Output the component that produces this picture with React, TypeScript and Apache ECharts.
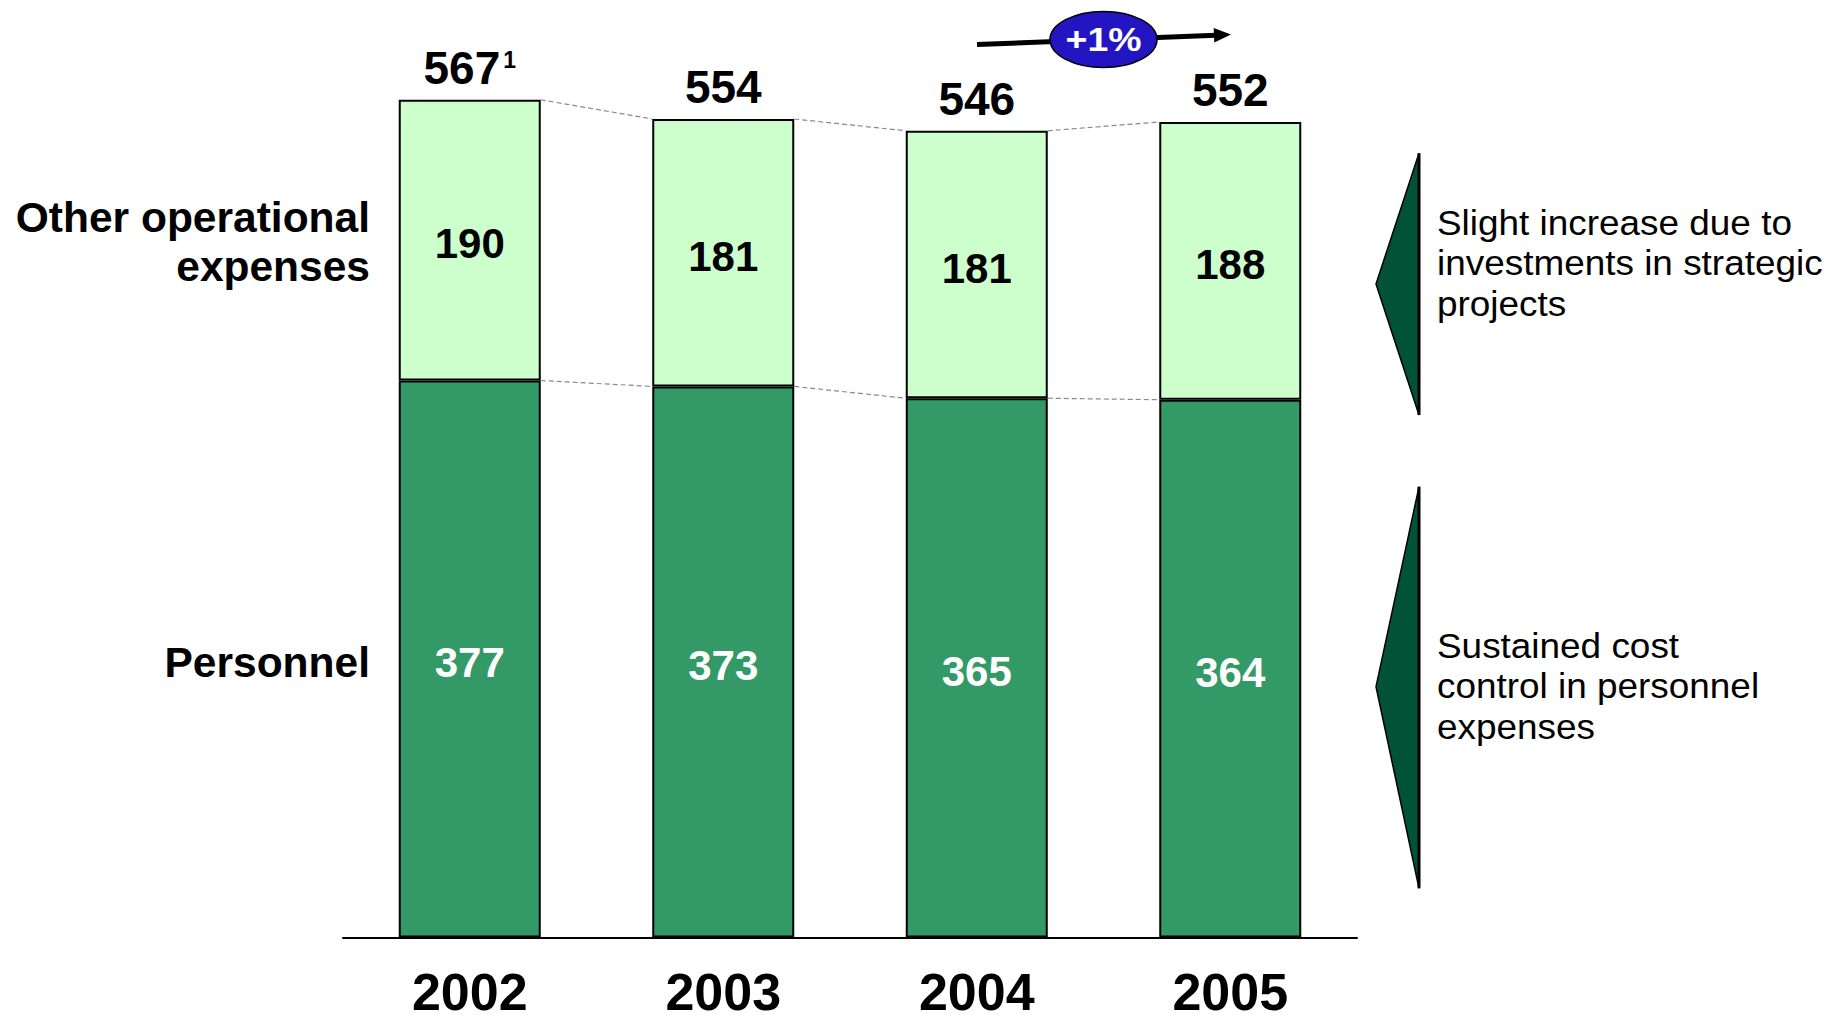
import React, { useEffect, useRef } from "react";
import * as echarts from "echarts";

const categories = ["2002", "2003", "2004", "2005"];
const personnel = [377, 373, 365, 364];
const otherOps = [190, 181, 181, 188];
const totals = [567, 554, 546, 552];
const totalNotes = ["1", "", "", ""];
const seriesNames = ["Personnel", "Other operational expenses"];
const growthLabel = "+1%";
const noteTop = ["Slight increase due to", "investments in strategic", "projects"];
const noteBottom = ["Sustained cost", "control in personnel", "expenses"];

const FONT = "'Liberation Sans', Arial, Helvetica, sans-serif";
const BAR_W = 142;

export default function App() {
  const ref = useRef<HTMLDivElement>(null);
  useEffect(() => {
    if (!ref.current) return;
    const chart = echarts.init(ref.current, null, { renderer: "svg" });

    const connectors: number[][] = [];
    for (let i = 0; i < categories.length - 1; i++) {
      connectors.push([i, totals[i], totals[i + 1]]);
      connectors.push([i, personnel[i], personnel[i + 1]]);
    }

    const segLabel = (color: string) => ({
      show: true,
      position: "inside",
      color,
      fontSize: 42,
      fontWeight: "bold",
      fontFamily: FONT,
      offset: [0, 3.5],
    });

    const option: any = {
      animation: false,
      backgroundColor: "#ffffff",
      textStyle: { fontFamily: FONT },
      grid: {
        left: 343,
        width: 1014,
        top: 51,
        bottom: 77.4,
        containLabel: false,
        outerBoundsMode: "none",
      },
      xAxis: {
        type: "category",
        data: categories,
        axisLine: { show: true, lineStyle: { color: "#000", width: 2 } },
        axisTick: { show: false },
        axisLabel: {
          fontSize: 52,
          fontWeight: "bold",
          color: "#000",
          margin: 36,
          lineHeight: 36,
          fontFamily: FONT,
        },
        splitLine: { show: false },
      },
      yAxis: {
        type: "value",
        min: 0,
        max: 600,
        show: false,
        splitLine: { show: false },
      },
      series: [
        {
          name: seriesNames[0],
          type: "bar",
          stack: "total",
          barWidth: BAR_W,
          data: personnel,
          itemStyle: { color: "#339966", borderColor: "#000", borderWidth: 2 },
          label: segLabel("#fff"),
        },
        {
          name: seriesNames[1],
          type: "bar",
          stack: "total",
          barWidth: BAR_W,
          data: otherOps,
          itemStyle: { color: "#CCFFCC", borderColor: "#000", borderWidth: 2 },
          label: segLabel("#000"),
        },
        {
          name: "Total",
          type: "custom",
          data: totals.map((v, i) => [i, v]),
          encode: { x: 0, y: 1 },
          silent: true,
          z: 5,
          renderItem: (params: any, api: any) => {
            const i = api.value(0);
            const p = api.coord([i, api.value(1)]);
            const note = totalNotes[i];
            const v = totals[i];
            return {
              type: "text",
              x: p[0],
              y: p[1] - 9,
              style: {
                text: note ? `{t|${v}}{s|${note}}` : `{t|${v}}`,
                fill: "#000",
                align: "center",
                verticalAlign: "bottom",
                rich: {
                  t: { fontSize: 46, fontWeight: "bold", fill: "#000", fontFamily: FONT },
                  s: {
                    fontSize: 23,
                    fontWeight: "bold",
                    fill: "#000",
                    fontFamily: FONT,
                    verticalAlign: "top",
                    padding: [4, 0, 0, 3],
                  },
                },
              },
            };
          },
        },
        {
          name: "connectors",
          type: "custom",
          data: connectors,
          encode: { x: 0, y: 1 },
          silent: true,
          z: 1,
          renderItem: (params: any, api: any) => {
            const i = api.value(0);
            const p1 = api.coord([i, api.value(1)]);
            const p2 = api.coord([i + 1, api.value(2)]);
            return {
              type: "line",
              shape: { x1: p1[0] + BAR_W / 2, y1: p1[1], x2: p2[0] - BAR_W / 2, y2: p2[1] },
              style: { stroke: "#8a8a8a", lineWidth: 1.2, lineDash: [5, 3] },
            };
          },
        },
      ],
      graphic: {
        elements: [
          // left category labels
          {
            type: "text",
            x: 370,
            y: 217,
            style: {
              text: "Other operational",
              x: 0,
              y: 0,
              fill: "#000",
              font: `bold 42.5px ${FONT}`,
              textAlign: "right",
              align: "right",
              textVerticalAlign: "middle",
              verticalAlign: "middle",
            },
          },
          {
            type: "text",
            x: 370,
            y: 266.5,
            style: {
              text: "expenses",
              x: 0,
              y: 0,
              fill: "#000",
              font: `bold 42.5px ${FONT}`,
              textAlign: "right",
              align: "right",
              textVerticalAlign: "middle",
              verticalAlign: "middle",
            },
          },
          {
            type: "text",
            x: 370,
            y: 662,
            style: {
              text: "Personnel",
              x: 0,
              y: 0,
              fill: "#000",
              font: `bold 42.5px ${FONT}`,
              textAlign: "right",
              align: "right",
              textVerticalAlign: "middle",
              verticalAlign: "middle",
            },
          },
          // growth arrow
          {
            type: "line",
            shape: { x1: 977, y1: 44.5, x2: 1216, y2: 35.3 },
            style: { stroke: "#000", lineWidth: 5 },
          },
          {
            type: "polygon",
            shape: { points: [[1231, 34.6], [1213.7, 28], [1214.3, 42.5]] },
            style: { fill: "#000" },
          },
          {
            type: "ellipse",
            shape: { cx: 1103.5, cy: 39.5, rx: 53.5, ry: 28 },
            style: { fill: "#2316C2", stroke: "#000", lineWidth: 1.5 },
          },
          {
            type: "text",
            x: 1103.5,
            y: 40,
            scaleX: 1.1,
            style: {
              text: growthLabel,
              x: 0,
              y: 0,
              fill: "#fff",
              font: `bold 34px ${FONT}`,
              textAlign: "center",
              align: "center",
              textVerticalAlign: "middle",
              verticalAlign: "middle",
            },
          },
          // right side brackets
          {
            type: "polygon",
            shape: { points: [[1419, 153.3], [1376, 284], [1419, 415]] },
            style: { fill: "#025238", stroke: "#000", lineWidth: 1.5 },
          },
          {
            type: "line",
            shape: { x1: 1419, y1: 153.3, x2: 1419, y2: 415 },
            style: { stroke: "#000", lineWidth: 3 },
          },
          {
            type: "polygon",
            shape: { points: [[1419, 486.7], [1376, 686.7], [1419, 888.3]] },
            style: { fill: "#025238", stroke: "#000", lineWidth: 1.5 },
          },
          {
            type: "line",
            shape: { x1: 1419, y1: 486.7, x2: 1419, y2: 888.3 },
            style: { stroke: "#000", lineWidth: 3 },
          },
          {
            type: "text",
            x: 1437,
            y: 263.5,
            scaleX: 1.07,
            style: {
              text: noteTop.join("\n"),
              x: 0,
              y: 0,
              fill: "#000",
              font: `34.5px ${FONT}`,
              lineHeight: 40.5,
              textAlign: "left",
              align: "left",
              textVerticalAlign: "middle",
              verticalAlign: "middle",
            },
          },
          {
            type: "text",
            x: 1437,
            y: 686.5,
            scaleX: 1.07,
            style: {
              text: noteBottom.join("\n"),
              x: 0,
              y: 0,
              fill: "#000",
              font: `34.5px ${FONT}`,
              lineHeight: 40.5,
              textAlign: "left",
              align: "left",
              textVerticalAlign: "middle",
              verticalAlign: "middle",
            },
          },
        ],
      },
    };

    chart.setOption(option);
    return () => chart.dispose();
  }, []);

  return (
    <div
      ref={ref}
      style={{ position: "fixed", left: 0, top: 0, width: 1831, height: 1015, background: "#fff" }}
    />
  );
}
